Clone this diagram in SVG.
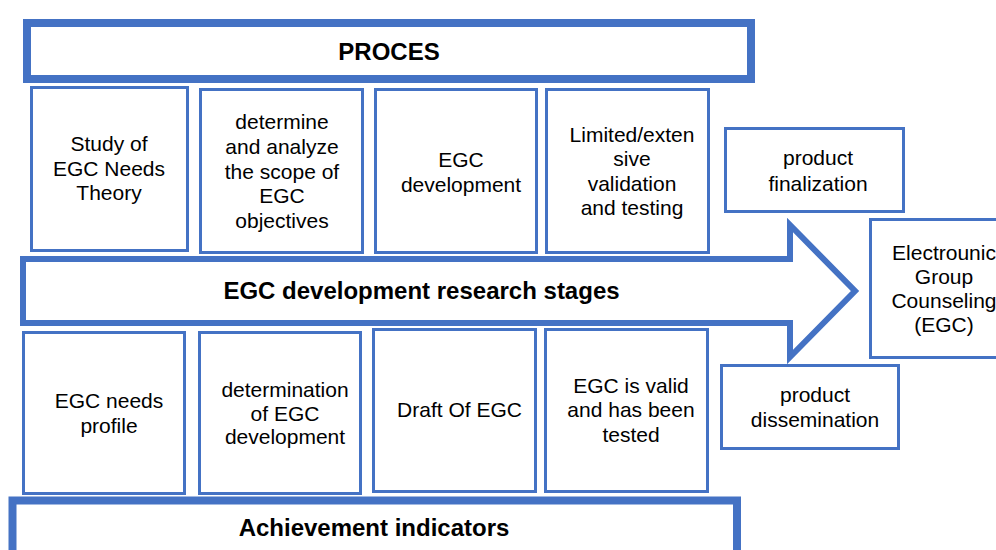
<svg xmlns="http://www.w3.org/2000/svg" width="996" height="550" viewBox="0 0 996 550">
  <style>
    .band { fill: #fff; stroke: #4472C4; stroke-width: 8; }
    .box { fill: #fff; stroke: #4472C4; stroke-width: 3; }
    .arrow { fill: #fff; stroke: #4472C4; stroke-width: 6; stroke-linejoin: miter; }
    text { font-family: "Liberation Sans", Arial, sans-serif; fill: #000; text-anchor: middle; }
    .t { font-size: 21px; }
    .h { font-size: 24px; font-weight: bold; }
  </style>
  <rect width="996" height="550" fill="#fff"/>

  <!-- header band -->
  <g id="proces">
    <rect class="band" x="27" y="23" width="724" height="56"/>
    <text class="h" x="389" y="60">PROCES</text>
  </g>

  <!-- process steps -->
  <g id="study-theory">
    <rect class="box" x="31.5" y="87.5" width="156" height="163"/>
    <text class="t" x="109" y="151">Study of</text>
    <text class="t" x="109" y="176">EGC Needs</text>
    <text class="t" x="109" y="200">Theory</text>
  </g>
  <g id="scope-objectives">
    <rect class="box" x="200.5" y="89.5" width="162" height="163"/>
    <text class="t" x="282" y="129">determine</text>
    <text class="t" x="282" y="154">and analyze</text>
    <text class="t" x="282" y="179">the scope of</text>
    <text class="t" x="282" y="203">EGC</text>
    <text class="t" x="282" y="228">objectives</text>
  </g>
  <g id="egc-development">
    <rect class="box" x="375.5" y="89.5" width="161" height="163"/>
    <text class="t" x="461" y="167">EGC</text>
    <text class="t" x="461" y="192">development</text>
  </g>
  <g id="validation-testing">
    <rect class="box" x="546.5" y="89.5" width="162" height="163"/>
    <text class="t" x="632" y="142">Limited/exten</text>
    <text class="t" x="632" y="166">sive</text>
    <text class="t" x="632" y="191">validation</text>
    <text class="t" x="632" y="215">and testing</text>
  </g>
  <g id="product-finalization">
    <rect class="box" x="725.5" y="128.5" width="178" height="83"/>
    <text class="t" x="818" y="165">product</text>
    <text class="t" x="818" y="191">finalization</text>
  </g>

  <!-- stage arrow -->
  <g id="stages-arrow">
    <polygon class="arrow" points="23,259 790,259 790,225 855,291 790,357 790,323 23,323"/>
    <text class="h" x="421.5" y="299">EGC development research stages</text>
  </g>

  <g id="egc-product">
    <rect class="box" x="870.5" y="219.5" width="200" height="138"/>
    <text class="t" x="944" y="260">Electrounic</text>
    <text class="t" x="944" y="284">Group</text>
    <text class="t" x="944" y="308">Counseling</text>
    <text class="t" x="944" y="332">(EGC)</text>
  </g>

  <!-- indicators -->
  <g id="needs-profile">
    <rect class="box" x="23.5" y="332.5" width="161" height="161"/>
    <text class="t" x="109" y="408">EGC needs</text>
    <text class="t" x="109" y="433">profile</text>
  </g>
  <g id="development-determination">
    <rect class="box" x="199.5" y="332.5" width="161" height="161"/>
    <text class="t" x="285" y="397">determination</text>
    <text class="t" x="285" y="421">of EGC</text>
    <text class="t" x="285" y="444">development</text>
  </g>
  <g id="draft">
    <rect class="box" x="373.5" y="329.5" width="162" height="162"/>
    <text class="t" x="459.5" y="417">Draft Of EGC</text>
  </g>
  <g id="valid-tested">
    <rect class="box" x="545.5" y="329.5" width="162" height="162"/>
    <text class="t" x="631" y="393">EGC is valid</text>
    <text class="t" x="631" y="417">and has been</text>
    <text class="t" x="631" y="442">tested</text>
  </g>
  <g id="product-dissemination">
    <rect class="box" x="721.5" y="365.5" width="177" height="83"/>
    <text class="t" x="815" y="402">product</text>
    <text class="t" x="815" y="427">dissemination</text>
  </g>

  <!-- footer band -->
  <g id="achievement-indicators">
    <rect class="band" x="12.5" y="500.5" width="724.5" height="100"/>
    <text class="h" x="374" y="536">Achievement indicators</text>
  </g>

  <g id="connectors"></g>
</svg>
